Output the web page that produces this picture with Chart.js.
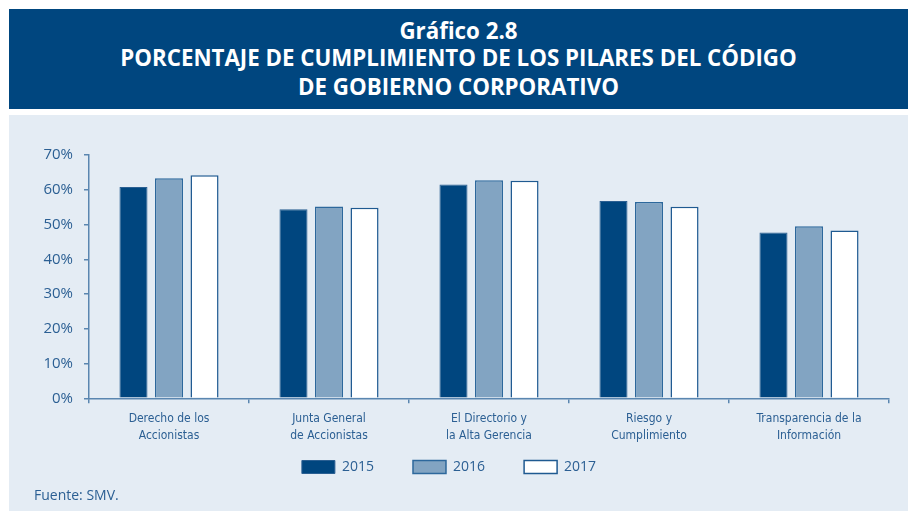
<!DOCTYPE html>
<html>
<head>
<meta charset="utf-8">
<script src="https://cdn.jsdelivr.net/npm/chart.js@4/dist/chart.umd.min.js"></script>
<style>
  html, body { margin:0; padding:0; background:#fff; width:908px; height:511px; overflow:hidden; }
  #banner { position:absolute; left:9px; top:9px; width:899px; height:100px; background:#00467f; color:#fff;
    font-family:"Open Sans", sans-serif; font-weight:700; text-align:center; }
  #banner div { position:absolute; left:0; right:0; font-size:22.3px; line-height:30px; }
  #panel { position:absolute; left:9px; top:115px; width:899px; height:396px; background:#e4ecf4; }
  #chart { position:absolute; left:0; top:0; }
  #source { position:absolute; left:25px; top:370px; font-family:"Open Sans", sans-serif; font-size:14px; color:#2b5f93; }
</style>
</head>
<body>
<div id="banner">
  <div style="top:7px">Gráfico 2.8</div>
  <div style="top:34px">PORCENTAJE DE CUMPLIMIENTO DE LOS PILARES DEL CÓDIGO</div>
  <div style="top:63px">DE GOBIERNO CORPORATIVO</div>
</div>
<div id="panel">
  <canvas id="chart" width="899" height="396"></canvas>
  <div id="source">Fuente: SMV.</div>
</div>
<script>
// ===== Data =====
const categories = [
  ['Derecho de los', 'Accionistas'],
  ['Junta General', 'de Accionistas'],
  ['El Directorio y', 'la Alta Gerencia'],
  ['Riesgo y', 'Cumplimiento'],
  ['Transparencia de la', 'Información']
];
const years = ['2015', '2016', '2017'];
const values2015 = [60.8, 54.4, 61.5, 56.8, 47.7];
const values2016 = [63.3, 55.2, 62.7, 56.5, 49.5];
const values2017 = [64.2, 54.8, 62.6, 55.1, 48.3];
const yTicks = [0, 10, 20, 30, 40, 50, 60, 70];

const textBlue = '#2b5f93';
const axisBlue = '#5a86b0';

// ===== Chart =====
const ctx = document.getElementById('chart').getContext('2d');
new Chart(ctx, {
  type: 'bar',
  data: {
    labels: categories,
    datasets: [
      {label: years[0], data: values2015, backgroundColor: '#00467f', borderColor: '#2a5f92', borderWidth: 1},
      {label: years[1], data: values2016, backgroundColor: '#82a4c2', borderColor: '#2d689c', borderWidth: 1.5},
      {label: years[2], data: values2017, backgroundColor: '#ffffff', borderColor: '#1f5a91', borderWidth: 1.5}
    ]
  },
  options: {
    responsive: false,
    animation: false,
    datasets: {bar: {categoryPercentage: 0.666, barPercentage: 0.79}},
    layout: {padding: {top: 40, right: 19, left: 0, bottom: 27}},
    plugins: {
      tooltip: {enabled: false},
      legend: {
        position: 'bottom',
        labels: {
          boxWidth: 33, boxHeight: 13, padding: 10, color: textBlue,
          font: {family: 'Open Sans', size: 14},
          // trailing spaces widen the gap between legend items
          generateLabels: chart => {
            const items = Chart.defaults.plugins.legend.labels.generateLabels(chart);
            items.forEach((it, i) => { if (i < items.length - 1) it.text = it.text + '        '; });
            return items;
          }
        }
      }
    },
    scales: {
      x: {
        grid: {display: true, drawOnChartArea: false, drawTicks: true, tickLength: 5, color: axisBlue, lineWidth: 1.5},
        border: {color: axisBlue, width: 1.5},
        ticks: {color: textBlue, padding: 7, font: {family: '"Liberation Sans Narrow", "DejaVu Sans Condensed", sans-serif', size: 12, lineHeight: 1.42}, maxRotation: 0, autoSkip: false},
        afterFit: s => { s.height = 51.7; }
      },
      y: {
        min: 0, max: 70,
        afterBuildTicks: s => { s.ticks = yTicks.map(v => ({value: v})); },
        grid: {display: true, drawOnChartArea: false, drawTicks: true, tickLength: 5, color: axisBlue, lineWidth: 1.5},
        border: {color: axisBlue, width: 1.5},
        ticks: {color: textBlue, padding: 11, font: {family: 'Open Sans', size: 15}, callback: v => v + '%'},
        afterFit: s => { s.width = 80; }
      }
    }
  }
});
</script>
</body>
</html>
